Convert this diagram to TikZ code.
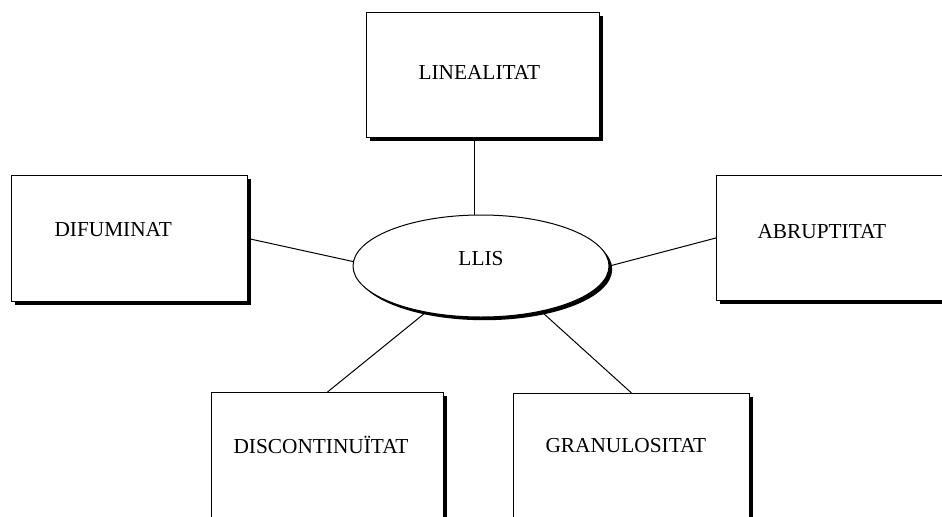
\documentclass[tikz,border=0pt]{standalone}
\usepackage{fontspec}
\setmainfont{Liberation Serif}
\usetikzlibrary{shapes.geometric,shadows}

\tikzset{every picture/.style={line width=0.75pt}}
\tikzset{
  conceptbox/.style={draw, fill=white, anchor=north west, inner ysep=0pt, align=left,
    font=\fontsize{16}{19}\selectfont,
    drop shadow={shadow xshift=2.4pt, shadow yshift=-2.4pt, opacity=1, fill=black}},
  centrecell/.style={ellipse, draw, fill=white, inner sep=0pt, minimum width=192pt, minimum height=76.5pt,
    text depth=12pt, font=\fontsize{16}{19}\selectfont,
    drop shadow={shadow xshift=2.4pt, shadow yshift=-2.4pt, opacity=1, fill=black}},
  spoke/.style={line width=0.75pt}
}

\begin{document}
\begin{tikzpicture}[x=0.75pt,y=0.75pt,yscale=-1,xscale=1]
\useasboundingbox (0,0) rectangle (942,517);
\clip (0,0) rectangle (942,517);

% Boxes
\node [conceptbox, inner xsep=39pt, text width=96.75pt, text height=49.9pt, text depth=43.9pt] (lin) at (366,12) {LINEALITAT};
\node [conceptbox, inner xsep=32.25pt, text width=112.5pt, text height=46.1pt, text depth=48.4pt] (dif) at (11,175) {DIFUMINAT};
\node [conceptbox, inner xsep=30.75pt, text width=121.5pt, text height=47.6pt, text depth=46.1pt] (abr) at (716,175) {ABRUPTITAT};
\node [conceptbox, inner xsep=16.5pt, text width=141pt, text height=45.4pt, text depth=65.6pt] (dis) at (211,392) {DISCONTINUÏTAT};
\node [conceptbox, inner xsep=24pt, text width=129pt, text height=43.9pt, text depth=66.4pt] (gra) at (513,393) {GRANULOSITAT};

% Ellipse
\node [centrecell] (llis) at (481,266) {LLIS};

% Spokes
\draw [spoke] (llis.97) -- (llis.97 |- lin.south);
\draw [spoke] (dif.east) -- (llis.178);
\draw [spoke] (abr.west) -- (llis.east);
\draw [spoke] (dis.north) -- (llis.220);
\draw [spoke] (gra.north) -- (llis.323);

\end{tikzpicture}
\end{document}
